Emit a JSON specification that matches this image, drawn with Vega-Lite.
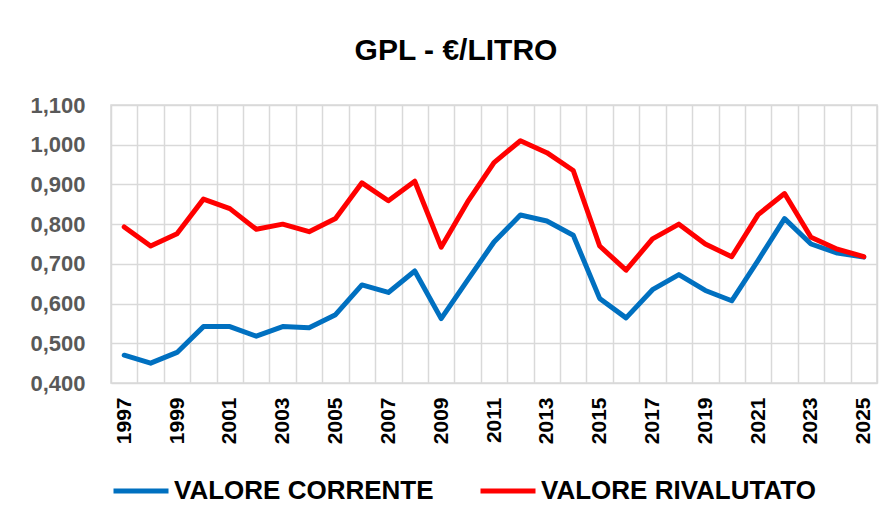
{
  "$schema": "https://vega.github.io/schema/vega-lite/v6.json",
  "width": 766,
  "height": 278,
  "autosize": {"type": "none"},
  "padding": {"left": 111, "top": 105, "right": 17, "bottom": 147},
  "background": "white",
  "title": {
    "text": "GPL - €/LITRO",
    "font": "Liberation Sans",
    "fontSize": 30,
    "fontWeight": "bold",
    "color": "#000000",
    "anchor": "middle",
    "dx": -38,
    "offset": 28
  },
  "data": {
    "values": [
      {"anno": 1997, "VALORE CORRENTE": 0.470, "VALORE RIVALUTATO": 0.793},
      {"anno": 1998, "VALORE CORRENTE": 0.450, "VALORE RIVALUTATO": 0.745},
      {"anno": 1999, "VALORE CORRENTE": 0.477, "VALORE RIVALUTATO": 0.776},
      {"anno": 2000, "VALORE CORRENTE": 0.542, "VALORE RIVALUTATO": 0.863},
      {"anno": 2001, "VALORE CORRENTE": 0.542, "VALORE RIVALUTATO": 0.839},
      {"anno": 2002, "VALORE CORRENTE": 0.518, "VALORE RIVALUTATO": 0.787},
      {"anno": 2003, "VALORE CORRENTE": 0.542, "VALORE RIVALUTATO": 0.800},
      {"anno": 2004, "VALORE CORRENTE": 0.539, "VALORE RIVALUTATO": 0.781},
      {"anno": 2005, "VALORE CORRENTE": 0.572, "VALORE RIVALUTATO": 0.814},
      {"anno": 2006, "VALORE CORRENTE": 0.647, "VALORE RIVALUTATO": 0.904},
      {"anno": 2007, "VALORE CORRENTE": 0.628, "VALORE RIVALUTATO": 0.859},
      {"anno": 2008, "VALORE CORRENTE": 0.682, "VALORE RIVALUTATO": 0.908},
      {"anno": 2009, "VALORE CORRENTE": 0.562, "VALORE RIVALUTATO": 0.742},
      {"anno": 2010, "VALORE CORRENTE": 0.659, "VALORE RIVALUTATO": 0.856},
      {"anno": 2011, "VALORE CORRENTE": 0.755, "VALORE RIVALUTATO": 0.955},
      {"anno": 2012, "VALORE CORRENTE": 0.823, "VALORE RIVALUTATO": 1.010},
      {"anno": 2013, "VALORE CORRENTE": 0.808, "VALORE RIVALUTATO": 0.980},
      {"anno": 2014, "VALORE CORRENTE": 0.772, "VALORE RIVALUTATO": 0.935},
      {"anno": 2015, "VALORE CORRENTE": 0.613, "VALORE RIVALUTATO": 0.745},
      {"anno": 2016, "VALORE CORRENTE": 0.564, "VALORE RIVALUTATO": 0.684},
      {"anno": 2017, "VALORE CORRENTE": 0.635, "VALORE RIVALUTATO": 0.763},
      {"anno": 2018, "VALORE CORRENTE": 0.673, "VALORE RIVALUTATO": 0.800},
      {"anno": 2019, "VALORE CORRENTE": 0.633, "VALORE RIVALUTATO": 0.750},
      {"anno": 2020, "VALORE CORRENTE": 0.607, "VALORE RIVALUTATO": 0.718},
      {"anno": 2021, "VALORE CORRENTE": 0.709, "VALORE RIVALUTATO": 0.824},
      {"anno": 2022, "VALORE CORRENTE": 0.814, "VALORE RIVALUTATO": 0.877},
      {"anno": 2023, "VALORE CORRENTE": 0.750, "VALORE RIVALUTATO": 0.767},
      {"anno": 2024, "VALORE CORRENTE": 0.727, "VALORE RIVALUTATO": 0.737},
      {"anno": 2025, "VALORE CORRENTE": 0.717, "VALORE RIVALUTATO": 0.718}
    ]
  },
  "transform": [
    {"fold": ["VALORE CORRENTE", "VALORE RIVALUTATO"], "as": ["serie", "valore"]}
  ],
  "mark": {"type": "line", "strokeWidth": 5, "strokeCap": "round", "strokeJoin": "round"},
  "encoding": {
    "x": {
      "field": "anno",
      "type": "ordinal",
      "bandPosition": 0.5,
      "scale": {"type": "band", "paddingInner": 0, "paddingOuter": 0},
      "axis": {
        "title": null,
        "tickBand": "extent",
        "ticks": false,
        "domain": false,
        "grid": true,
        "gridColor": "#d9d9d9",
        "gridWidth": 1.5,
        "labelAngle": 270,
        "labelAlign": "right",
        "labelBaseline": "middle",
        "labelPadding": 14,
        "labelFont": "Liberation Sans",
        "labelFontSize": 21,
        "labelFontWeight": "bold",
        "labelColor": "#000000",
        "labelOverlap": false,
        "labelExpr": "datum.value % 2 == 1 ? datum.label : ''"
      }
    },
    "y": {
      "field": "valore",
      "type": "quantitative",
      "scale": {"domain": [0.4, 1.1], "nice": false, "zero": false},
      "axis": {
        "title": null,
        "values": [0.4, 0.5, 0.6, 0.7, 0.8, 0.9, 1.0, 1.1],
        "ticks": false,
        "domain": false,
        "grid": true,
        "gridColor": "#d9d9d9",
        "gridWidth": 1.5,
        "labelPadding": 26,
        "labelFont": "Liberation Sans",
        "labelFontSize": 22,
        "labelFontWeight": "bold",
        "labelColor": "#595959",
        "labelExpr": "replace(format(datum.value, '.3f'), '.', ',')"
      }
    },
    "color": {
      "field": "serie",
      "type": "nominal",
      "scale": {"domain": ["VALORE CORRENTE", "VALORE RIVALUTATO"], "range": ["#0070C0", "#FF0000"]},
      "legend": {
        "title": null,
        "orient": "bottom",
        "direction": "horizontal",
        "offset": 17,
        "symbolType": "stroke",
        "symbolSize": 3025,
        "symbolStrokeWidth": 5,
        "labelFont": "Liberation Sans",
        "labelFontSize": 26,
        "labelFontWeight": "bold",
        "labelColor": "#000000",
        "labelLimit": 400,
        "labelOffset": 3,
        "columnPadding": 36
      }
    }
  },
  "config": {
    "view": {"stroke": "#d9d9d9", "strokeWidth": 1.5}
  }
}
